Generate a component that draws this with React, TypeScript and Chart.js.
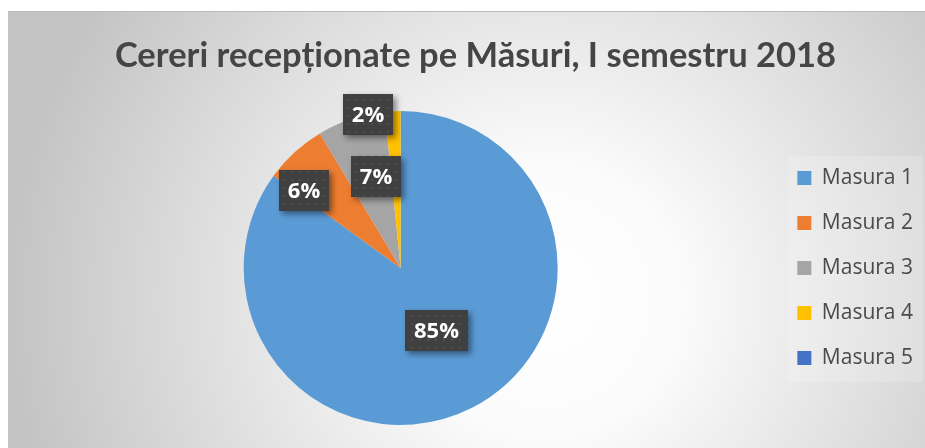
import React, { useEffect, useRef } from "react";
import { Chart, registerables } from "chart.js";

Chart.register(...registerables);

const titleText = "Cereri recepționate pe Măsuri, I semestru 2018";
const categories = ["Masura 1", "Masura 2", "Masura 3", "Masura 4", "Masura 5"];
const values = [84.9, 6.4, 7.0, 1.6, 0];
const colors = ["#5b9bd5", "#ed7d31", "#a5a5a5", "#ffc000", "#4472c4"];
// label placement (fraction of radius, angular shift in degrees) per slice
const labelRadial = [0.46, 0.79, 0.6, 1.0, 0.7];
const labelShift = [-2.5, -8.8, 3.5, -9.3, 0];

function makeDotPattern(ctx: CanvasRenderingContext2D) {
  const c = document.createElement("canvas");
  c.width = 8;
  c.height = 8;
  const g = c.getContext("2d")!;
  g.fillStyle = "#404040";
  g.fillRect(0, 0, 8, 8);
  g.fillStyle = "#4e4e4e";
  g.fillRect(3, 3, 2, 2);
  return ctx.createPattern(c, "repeat");
}

const backgroundPlugin = {
  id: "bgFrame",
  beforeDraw(chart: any) {
    const ctx = chart.ctx as CanvasRenderingContext2D;
    const W = chart.width;
    const H = chart.height;
    ctx.save();
    ctx.fillStyle = "#ffffff";
    ctx.fillRect(0, 0, W, H);
    const g = ctx.createRadialGradient(545, 300, 0, 545, 300, 540);
    g.addColorStop(0, "#ffffff");
    g.addColorStop(0.25, "#fbfbfb");
    g.addColorStop(1, "#c3c3c3");
    ctx.fillStyle = g;
    ctx.fillRect(8, 11, W - 8, H - 11);
    ctx.fillStyle = "#b9b9b9";
    ctx.fillRect(8, 11, W - 8, 1);
    // legend panel
    ctx.fillStyle = "rgba(255,255,255,0.18)";
    ctx.fillRect(788, 156, 135, 226);
    ctx.restore();
  },
};

const labelPlugin = {
  id: "pctLabels",
  afterDatasetsDraw(chart: any) {
    const ctx = chart.ctx as CanvasRenderingContext2D;
    const meta = chart.getDatasetMeta(0);
    const total = values.reduce((a, b) => a + b, 0);
    const pattern = makeDotPattern(ctx);
    meta.data.forEach((arc: any, i: number) => {
      const v = values[i];
      if (!v) return;
      const p = arc.getProps(["x", "y", "startAngle", "endAngle", "outerRadius"], true);
      const mid = (p.startAngle + p.endAngle) / 2 + (labelShift[i] * Math.PI) / 180;
      const r = p.outerRadius * labelRadial[i];
      const cx = p.x + Math.cos(mid) * r;
      const cy = p.y + Math.sin(mid) * r;
      const text = Math.round((v / total) * 100) + "%";
      ctx.save();
      ctx.font = "bold 22px 'Open Sans'";
      const tw = ctx.measureText(text).width;
      const w = Math.round(tw + 18);
      const h = 41;
      const bx = Math.round(cx - w / 2);
      const by = Math.round(cy - h / 2);
      ctx.shadowColor = "rgba(0,0,0,0.45)";
      ctx.shadowBlur = 6;
      ctx.shadowOffsetX = 3;
      ctx.shadowOffsetY = 3;
      ctx.fillStyle = "#404040";
      ctx.fillRect(bx, by, w, h);
      ctx.shadowColor = "transparent";
      ctx.shadowBlur = 0;
      ctx.shadowOffsetX = 0;
      ctx.shadowOffsetY = 0;
      if (pattern) {
        ctx.fillStyle = pattern;
        ctx.fillRect(bx, by, w, h);
      }
      ctx.fillStyle = "#ffffff";
      ctx.textAlign = "center";
      ctx.textBaseline = "middle";
      ctx.fillText(text, bx + w / 2, by + h / 2 + 1);
      ctx.restore();
    });
  },
};

export default function App() {
  const ref = useRef<HTMLCanvasElement>(null);
  useEffect(() => {
    document.body.style.margin = "0";
    const chart = new Chart(ref.current!, {
      type: "pie",
      data: {
        labels: categories,
        datasets: [
          {
            data: values,
            backgroundColor: colors,
            borderWidth: 0,
          },
        ],
      },
      options: {
        responsive: false,
        animation: false,
        layout: { padding: { top: 11, left: 28, right: 2, bottom: 23 } },
        plugins: {
          title: {
            display: true,
            text: titleText,
            color: "#454545",
            font: { family: "Lato", size: 34.5, weight: "bold", lineHeight: 1.2 },
            padding: { top: 24.3, bottom: 34.3 },
          },
          legend: {
            display: true,
            position: "right",
            fullSize: false,
            labels: {
              boxWidth: 14,
              boxHeight: 14,
              padding: 24,
              color: "#4a4a4a",
              font: { family: "Open Sans", size: 21 },
            },
          },
          tooltip: { enabled: false },
        },
      },
      plugins: [backgroundPlugin, labelPlugin],
    });
    return () => chart.destroy();
  }, []);
  return (
    <div style={{ width: 925, height: 448 }}>
      <canvas ref={ref} width={925} height={448} />
    </div>
  );
}
